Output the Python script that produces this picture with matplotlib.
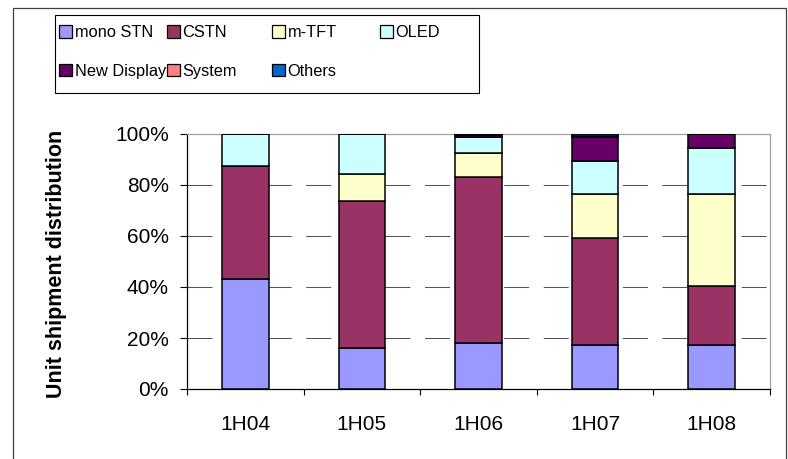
import matplotlib.pyplot as plt
from matplotlib.patches import Patch, Rectangle
import matplotlib.ticker as ticker

plt.rcParams['font.family'] = ['Liberation Sans', 'DejaVu Sans']

# ===== DADOS =====
periods = ["1H04", "1H05", "1H06", "1H07", "1H08"]
series_names = ["mono STN", "CSTN", "m-TFT", "OLED", "New Display", "System", "Others"]
mono_stn = [43.0, 16.0, 18.0, 17.2, 17.2]
cstn = [44.3, 57.6, 65.1, 42.0, 23.1]
m_tft = [0.0, 10.9, 9.3, 17.4, 36.3]
oled = [12.7, 15.5, 6.4, 13.0, 18.0]
new_display = [0.0, 0.0, 0.8, 9.2, 5.4]
system = [0.0, 0.0, 0.0, 0.4, 0.0]
others = [0.0, 0.0, 0.4, 0.8, 0.0]
colors = ["#9999FF", "#993366", "#FFFFCC", "#CCFFFF", "#660066", "#FF8080", "#0066CC"]

W, H = 788, 459


def main():
    fig = plt.figure(figsize=(W / 100, H / 100), dpi=100)
    ax = fig.add_axes([187 / W, 1 - 389 / H, (770 - 187) / W, (389 - 134) / H])

    values = [mono_stn, cstn, m_tft, oled, new_display, system, others]
    x = list(range(len(periods)))
    bottom = [0.0] * len(periods)
    for name, vals, col in zip(series_names, values, colors):
        ax.bar(x, vals, width=0.4, bottom=bottom, color=col, edgecolor="black",
               linewidth=1.1, zorder=3, label=name)
        bottom = [b + v for b, v in zip(bottom, vals)]

    # eixos
    ax.set_xlim(-0.5, len(periods) - 0.5)
    ax.set_ylim(0, 100)
    ax.yaxis.set_major_locator(ticker.MultipleLocator(20))
    ax.yaxis.set_major_formatter(ticker.FuncFormatter(lambda v, p: f"{v:.0f}%"))
    ax.set_xticks(x, periods)
    ax.set_xticks([i - 0.5 for i in range(len(periods) + 1)], minor=True)
    ax.tick_params(axis="x", which="major", length=0, pad=19, labelsize=15)
    ax.tick_params(axis="x", which="minor", length=4.5, width=0.8, direction="out")
    ax.tick_params(axis="y", length=5, width=0.8, pad=8, labelsize=15)

    for yv in [20, 40, 60, 80]:
        ax.axhline(yv, color="#555555", lw=0.75, linestyle=(0, (24, 14)), zorder=1)

    ax.spines["left"].set_color("black")
    ax.spines["bottom"].set_color("black")
    ax.spines["top"].set_color("#a0a0a0")
    ax.spines["right"].set_color("#a0a0a0")
    for s in ax.spines.values():
        s.set_linewidth(0.9)

    ax.set_ylabel("Unit shipment distribution", fontsize=15.5, fontweight="bold")
    ax.yaxis.set_label_coords(-0.205, 0.49)

    # legenda: caixa + 4 colunas de largura igual
    fig.add_artist(Rectangle((55 / W, 1 - 93 / H), (479 - 55) / W, (93 - 15) / H,
                             transform=fig.transFigure, fill=False,
                             edgecolor="black", lw=0.8))
    handles = [Patch(facecolor=c, edgecolor="black", lw=0.9) for c in colors]
    col_x = [59, 167, 272, 380]
    for ci, cx in enumerate(col_x):
        idx = [i for i in (ci, ci + 4) if i < len(handles)]
        fig.legend([handles[i] for i in idx], [series_names[i] for i in idx],
                   loc="upper left", bbox_to_anchor=(cx / W, 1 - 25 / H),
                   frameon=False, fontsize=11.8, handlelength=0.8, handleheight=0.8,
                   handletextpad=0.15, labelspacing=1.45, borderpad=0, borderaxespad=0)

    # borda externa
    fig.add_artist(Rectangle((13 / W, -0.05), (786 - 13) / W, 1.05 - 8 / H,
                             transform=fig.transFigure, fill=False,
                             edgecolor="#404040", lw=0.9))

    fig.savefig("out.png", dpi=100)
    plt.close(fig)


if __name__ == "__main__":
    main()
